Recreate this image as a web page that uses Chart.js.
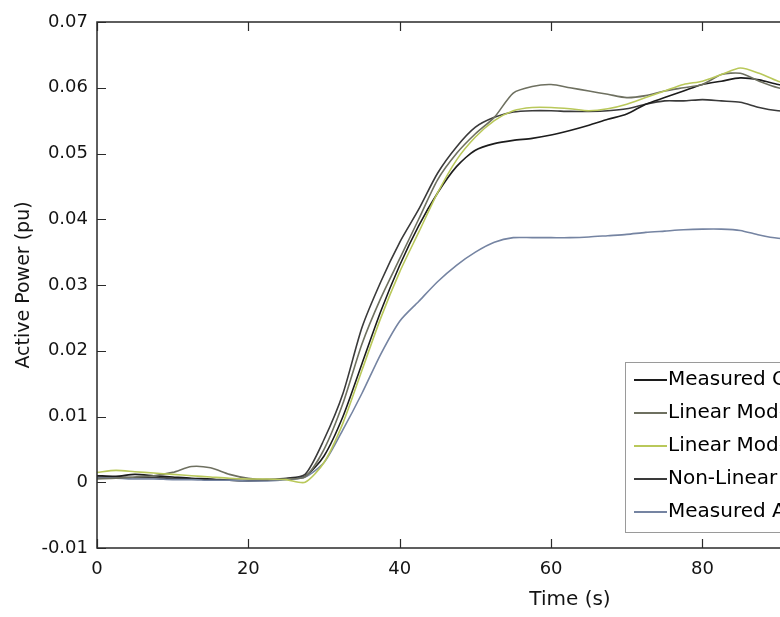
<!DOCTYPE html>
<html>
<head>
<meta charset="utf-8">
<script src="https://cdn.jsdelivr.net/npm/chart.js@4/dist/chart.umd.min.js"></script>
<style>
  html, body { margin: 0; padding: 0; background: #fff; overflow: hidden; width: 780px; height: 617px; }
  #c { display: block; }
</style>
</head>
<body>
<canvas id="c" width="1060" height="617"></canvas>
<script>
// ---- data ----
const time = [0,2.5,5,7.5,10,12.5,15,17.5,20,22.5,25,27.5,30,32.5,35,37.5,40,42.5,45,47.5,50,52.5,55,57.5,60,62.5,65,67.5,70,72.5,75,77.5,80,82.5,85,87.5,90,92.5,95,97.5,100];

const measuredOutput = [0.0010,0.0009,0.0012,0.0010,0.0008,0.0006,0.0005,0.0003,0.0002,0.0003,0.0005,0.0009,0.0040,0.0100,0.0180,0.0260,0.0330,0.0390,0.0440,0.0480,0.0505,0.0515,0.0520,0.0523,0.0528,0.0535,0.0543,0.0552,0.0560,0.0575,0.0585,0.0595,0.0605,0.0610,0.0615,0.0612,0.0605,0.0600,0.0598,0.0597,0.0597];

const linearModel1 = [0.0005,0.0006,0.0008,0.0010,0.0015,0.0024,0.0022,0.0012,0.0006,0.0004,0.0005,0.0008,0.0050,0.0120,0.0210,0.0280,0.0340,0.0400,0.0460,0.0500,0.0530,0.0555,0.0592,0.0602,0.0605,0.0600,0.0595,0.0590,0.0585,0.0588,0.0595,0.0600,0.0605,0.0620,0.0622,0.0610,0.0600,0.0595,0.0590,0.0590,0.0590];

const linearModel2 = [0.0015,0.0018,0.0016,0.0014,0.0012,0.0010,0.0008,0.0006,0.0005,0.0005,0.0004,0.0000,0.0030,0.0090,0.0170,0.0250,0.0320,0.0380,0.0440,0.0490,0.0525,0.0550,0.0565,0.0570,0.0570,0.0568,0.0565,0.0568,0.0575,0.0585,0.0595,0.0605,0.0610,0.0620,0.0630,0.0622,0.0610,0.0605,0.0602,0.0600,0.0600];

const nonLinearModel = [0.0008,0.0008,0.0007,0.0007,0.0006,0.0005,0.0004,0.0003,0.0003,0.0004,0.0006,0.0012,0.0065,0.0135,0.0235,0.0305,0.0365,0.0415,0.0470,0.0510,0.0540,0.0555,0.0563,0.0565,0.0565,0.0564,0.0564,0.0565,0.0568,0.0575,0.0580,0.0580,0.0582,0.0580,0.0578,0.0570,0.0565,0.0563,0.0562,0.0562,0.0562];

const measuredActive = [0.0006,0.0006,0.0005,0.0005,0.0004,0.0004,0.0003,0.0003,0.0002,0.0002,0.0004,0.0008,0.0030,0.0080,0.0135,0.0195,0.0245,0.0275,0.0305,0.0330,0.0350,0.0365,0.0372,0.0372,0.0372,0.0372,0.0373,0.0375,0.0377,0.0380,0.0382,0.0384,0.0385,0.0385,0.0383,0.0376,0.0371,0.0370,0.0370,0.0370,0.0370];

const seriesLabels = ["Measured Output", "Linear Model 1", "Linear Model 2", "Non-Linear Model", "Measured Active Power"];
const seriesColors = ["#1c1c1c", "#6e7060", "#b9c85a", "#3a3a3a", "#7584a2"];
const seriesValues = [measuredOutput, linearModel1, linearModel2, nonLinearModel, measuredActive];

const xTicks = [0, 20, 40, 60, 80, 100, 120];
const yMin = -0.01, yMax = 0.07, yStep = 0.01;
const xMin = 0, xMax = 125;

// ---- build datasets ----
const datasets = seriesValues.map((vals, i) => ({
  label: seriesLabels[i],
  data: vals.map((v, k) => ({ x: time[k], y: v })),
  borderColor: seriesColors[i],
  borderWidth: 1.6,
  pointRadius: 0,
  tension: 0.25,
  fill: false
}));

// draw order: light ones first
const order = [2, 1, 4, 0, 3];
const orderedDatasets = order.map(i => datasets[i]);

const FONT = "'DejaVu Sans', 'Liberation Sans', sans-serif";

const framePlugin = {
  id: 'frame',
  afterDatasetsDraw(chart) {
    const { ctx, chartArea: a, scales } = chart;
    ctx.save();
    ctx.strokeStyle = '#2a2a2a';
    ctx.lineWidth = 1.5;
    ctx.strokeRect(a.left, a.top, a.right - a.left, a.bottom - a.top);
    ctx.lineWidth = 1.2;
    ctx.beginPath();
    scales.y.ticks.forEach(t => {
      const y = Math.round(scales.y.getPixelForValue(t.value)) + 0.5;
      ctx.moveTo(a.left, y); ctx.lineTo(a.left + 9, y);
      ctx.moveTo(a.right, y); ctx.lineTo(a.right - 9, y);
    });
    scales.x.ticks.forEach(t => {
      const x = Math.round(scales.x.getPixelForValue(t.value)) + 0.5;
      ctx.moveTo(x, a.bottom); ctx.lineTo(x, a.bottom - 9);
      ctx.moveTo(x, a.top); ctx.lineTo(x, a.top + 9);
    });
    ctx.stroke();

    // legend box (inside plot, south-east)
    const boxL = 625, boxT = 362, boxB = 532;
    const boxR = a.right - 10;
    ctx.fillStyle = '#ffffff';
    ctx.fillRect(boxL, boxT, boxR - boxL, boxB - boxT);
    ctx.strokeStyle = '#9a9a9a';
    ctx.lineWidth = 1;
    ctx.strokeRect(boxL + 0.5, boxT + 0.5, boxR - boxL, boxB - boxT);
    ctx.font = "20px " + FONT;
    ctx.textBaseline = 'middle';
    ctx.textAlign = 'left';
    seriesLabels.forEach((lab, i) => {
      const y = 380 + 33 * i;
      ctx.strokeStyle = seriesColors[i];
      ctx.lineWidth = 2;
      ctx.beginPath();
      ctx.moveTo(634, y); ctx.lineTo(667, y);
      ctx.stroke();
      ctx.fillStyle = '#000';
      ctx.fillText(lab, 668, y);
    });
    ctx.restore();
  }
};

new Chart(document.getElementById('c'), {
  type: 'line',
  data: { datasets: orderedDatasets },
  options: {
    responsive: false,
    animation: false,
    devicePixelRatio: 1,
    layout: { padding: { left: 0, top: 22, right: 17, bottom: 0 } },
    plugins: { legend: { display: false }, tooltip: { enabled: false } },
    scales: {
      x: {
        type: 'linear',
        min: xMin, max: xMax,
        afterBuildTicks(scale) { scale.ticks = xTicks.map(v => ({ value: v })); },
        afterFit(scale) { scale.height = 69; },
        grid: { display: false, drawTicks: false },
        border: { display: false },
        ticks: {
          padding: 11,
          color: '#141414',
          font: { family: FONT, size: 18 },
          callback: v => String(v)
        },
        title: {
          display: true,
          text: 'Time (s)',
          color: '#141414',
          font: { family: FONT, size: 20 },
          padding: { top: 0, bottom: 5 }
        }
      },
      y: {
        type: 'linear',
        min: yMin, max: yMax,
        afterFit(scale) { scale.width = 97; },
        grid: { display: false, drawTicks: false },
        border: { display: false },
        ticks: {
          stepSize: yStep,
          padding: 9,
          color: '#141414',
          font: { family: FONT, size: 18 },
          callback: v => {
            const r = Math.round(v * 100) / 100;
            return r === 0 ? '0' : r.toFixed(2);
          }
        },
        title: {
          display: true,
          text: 'Active Power (pu)',
          color: '#141414',
          font: { family: FONT, size: 19 },
          padding: { top: 13, bottom: 0 }
        }
      }
    }
  },
  plugins: [framePlugin]
});
</script>
</body>
</html>
